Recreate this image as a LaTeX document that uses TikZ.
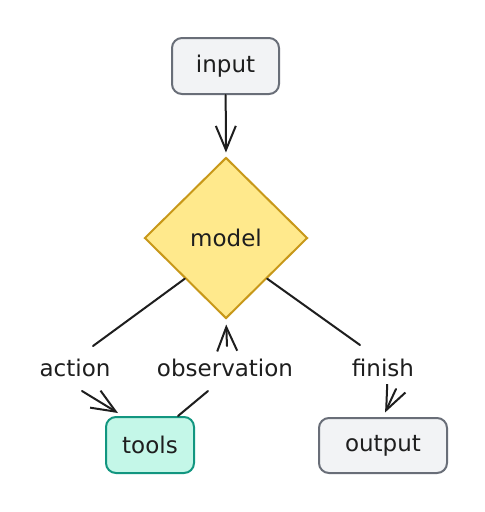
\documentclass[tikz,border=0pt]{standalone}
\usepackage{fontspec}
\setmainfont{DejaVu Sans}
\usetikzlibrary{shapes.geometric,arrows.meta}
\definecolor{ink}{RGB}{30,30,30}
\definecolor{grayfill}{RGB}{242,243,245}
\definecolor{graystroke}{RGB}{105,110,120}
\definecolor{tealfill}{RGB}{196,247,232}
\definecolor{tealstroke}{RGB}{18,150,128}
\definecolor{yelfill}{RGB}{255,233,140}
\definecolor{yelstroke}{RGB}{200,152,25}
\tikzset{
  box/.style={draw=graystroke, fill=grayfill, rounded corners=10pt, line width=2pt, inner sep=0pt, text=ink},
  toolbox/.style={draw=tealstroke, fill=tealfill, rounded corners=10pt, line width=2pt, inner sep=0pt, text=ink},
  decision/.style={diamond, shape aspect=1, draw=yelstroke, fill=yelfill, line width=2pt, inner sep=0pt, minimum width=163pt, minimum height=161pt, text=ink},
  lbl/.style={text=ink, inner sep=0pt},
  conn/.style={draw=ink, line width=2pt, line cap=round},
  arr/.style={conn, -{Straight Barb[length=24pt,width=20pt,line width=2pt]}, line join=round}
}
\begin{document}
\begin{tikzpicture}[x=1pt,y=-1pt, font=\fontsize{23}{26}\selectfont]
\useasboundingbox (0,0) rectangle (485,512);
\fill[white] (0,0) rectangle (485,512);
\node[box, minimum width=107pt, minimum height=56pt] (input) at (225.5,66) {input};
\node[decision] (model) at (226,238) {model};
\node[toolbox, minimum width=88pt, minimum height=56pt] (tools) at (150,445) {tools};
\node[box, minimum width=128pt, minimum height=55pt] (output) at (383,445.5) {output};
\node[lbl] (action) at (75,368) {action};
\node[lbl] (observation) at (225,368) {observation};
\node[lbl] (finish) at (383,368) {finish};
\coordinate (a1) at (93,346);
\coordinate (a2) at (82,391);
\coordinate (o1) at (208,391);
\coordinate (o2) at (227,346);
\coordinate (f1) at (360,345);
\coordinate (f2) at (396,389);
\draw[arr, shorten >=4pt] (input) -- (model.north);
\draw[conn] (model.south west) -- (a1);
\draw[arr] (a2) -- ([xshift=13pt,yshift=3pt]tools.north west);
\draw[conn] ([xshift=-17pt]tools.north east) -- (o1);
\draw[arr, shorten >=5pt] (o2) -- (model.south);
\draw[conn] (model.south east) -- (f1);
\draw[arr, shorten >=5pt] (f2) -- (output.north);
\end{tikzpicture}
\end{document}
